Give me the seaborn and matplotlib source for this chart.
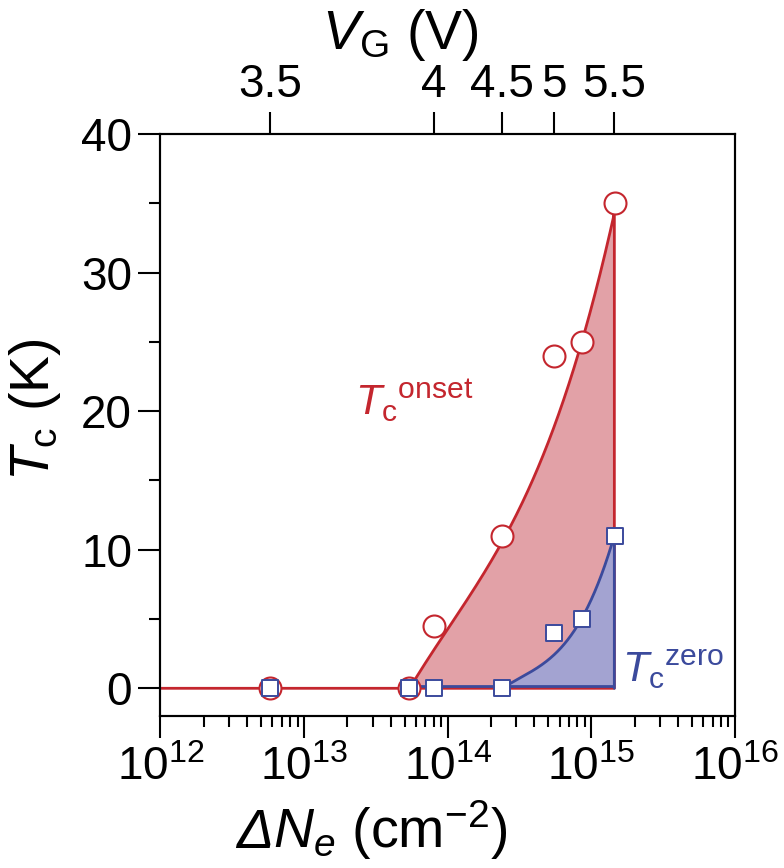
import numpy as np
import pandas as pd
import matplotlib
matplotlib.use("Agg")
import matplotlib.pyplot as plt
import matplotlib.transforms as mtransforms
from matplotlib.ticker import LogLocator, NullFormatter, NullLocator, FixedLocator, MultipleLocator
from matplotlib.offsetbox import TextArea, HPacker, AnnotationBbox
import seaborn as sns

# ---------------- data ----------------
dN = [5.8e12, 5.4e13, 8.0e13, 2.4e14, 5.5e14, 8.6e14, 1.45e15]
tc_onset = [0, 0, 4.5, 11, 24, 25, 35]
tc_zero = [0, 0, 0, 0, 4, 5, 11]
vg_labels = ["3.5", "4", "4.5", "5", "5.5"]
vg_dN = [5.8e12, 8.0e13, 2.4e14, 5.5e14, 1.43e15]

# guide-to-the-eye curves: log10(dN), Tc
onset_guide_logN = [13.73, 14.03, 14.39, 14.85, 15.06, 15.13, 15.16]
onset_guide_T = [0, 4.5, 11, 22.3, 29.5, 32.4, 35]
zero_guide_logN = [14.38, 14.57, 14.74, 14.92, 15.06, 15.16]
zero_guide_T = [0, 1.1, 2.5, 4.7, 8.0, 11]
x_range = [1e12, 1e16]

# ---------------- style ----------------
sns.set_style("ticks")
plt.rcParams["font.family"] = ["Liberation Sans", "DejaVu Sans"]
plt.rcParams["mathtext.fontset"] = "custom"
plt.rcParams["mathtext.rm"] = "Liberation Sans"
plt.rcParams["mathtext.it"] = "Liberation Sans:italic"
plt.rcParams["mathtext.bf"] = "Liberation Sans:bold"
plt.rcParams["mathtext.sf"] = "Liberation Sans"
for k in ["text.color", "axes.labelcolor", "xtick.color", "ytick.color",
          "xtick.labelcolor", "ytick.labelcolor", "axes.edgecolor"]:
    plt.rcParams[k] = "black"

RED = "#C4262E"
BLUE = "#3B4A9C"
RED_FILL = "#E2A1A7"
BLUE_FILL = "#A3A3D1"
TICK_FS = 33
LAB_FS = 40

fig = plt.figure(figsize=(7.84, 8.68), dpi=100)
ax = fig.add_axes([0.2047, 0.1751, 0.7328, 0.6705])


def smooth(lx, ly, n=200):
    c = np.polyfit(lx, ly, 3)
    t = np.linspace(lx[0], lx[-1], n)
    y = np.polyval(c, t)
    y[0] = ly[0]
    y[-1] = ly[-1]
    return 10 ** t, np.maximum(y, 0)

ox, oy = smooth(onset_guide_logN, onset_guide_T)
zx, zy = smooth(zero_guide_logN, zero_guide_T)

# fills
ax.fill_between(ox, 0, oy, color=RED_FILL, lw=0, zorder=1)
ax.fill_between(zx, 0, zy, color=BLUE_FILL, lw=0, zorder=2)

# red outline
red_x = np.concatenate([[x_range[0]], ox, [ox[-1], ox[0]]])
red_y = np.concatenate([[0], oy, [0, 0]])
sns.lineplot(x=red_x, y=red_y, sort=False, estimator=None, color=RED, lw=2.0, ax=ax, zorder=3)

# blue outline (bottom segment drawn slightly above the red base line)
blue_x = np.concatenate([zx, [zx[-1]]])
blue_y = np.concatenate([zy, [0]])
sns.lineplot(x=blue_x, y=blue_y, sort=False, estimator=None, color=BLUE, lw=2.0, ax=ax, zorder=4)
off = mtransforms.offset_copy(ax.transData, fig=fig, x=0, y=2.5, units="dots")
ax.plot([ox[0], zx[-1]], [0, 0], color=BLUE, lw=2.0, transform=off, zorder=4,
        solid_capstyle="butt")

# markers
sns.scatterplot(x=dN, y=tc_onset, marker="o", s=250, facecolor="white",
                edgecolor=RED, linewidth=1.5, ax=ax, zorder=5)
sns.scatterplot(x=dN, y=tc_zero, marker="s", s=130, facecolor="white",
                edgecolor=BLUE, linewidth=1.4, ax=ax, zorder=6)

# axes
ax.set_xscale("log")
ax.set_xlim(*x_range)
ax.set_ylim(-2, 40)
ax.yaxis.set_major_locator(MultipleLocator(10))
ax.yaxis.set_minor_locator(MultipleLocator(5))
ax.xaxis.set_major_locator(LogLocator(base=10, numticks=10))
ax.xaxis.set_minor_locator(LogLocator(base=10, subs=np.arange(2, 10), numticks=50))
ax.xaxis.set_minor_formatter(NullFormatter())
ax.tick_params(which="major", direction="out", length=15.5, width=1.5,
               labelsize=TICK_FS, pad=5)
ax.tick_params(which="minor", direction="out", length=8, width=1.5)
ax.tick_params(axis="x", which="major", pad=6)
for s in ax.spines.values():
    s.set_linewidth(1.5)
    s.set_visible(True)
ax.set_xlabel("")
ax.set_ylabel("")

# top axis: gate voltage
ax2 = ax.twiny()
ax2.set_xscale("log")
ax2.set_xlim(*x_range)
ax2.xaxis.set_major_locator(FixedLocator(vg_dN))
ax2.xaxis.set_minor_locator(NullLocator())
ax2.set_xticklabels(vg_labels)
ax2.tick_params(which="major", direction="out", length=15.5, width=1.5,
                labelsize=TICK_FS, pad=4)
for s in ax2.spines.values():
    s.set_linewidth(1.5)

# axis titles
ta1 = TextArea("Δ", textprops=dict(fontsize=LAB_FS, style="italic", color="black"))
ta2 = TextArea(r"$N_e$ (cm$^{-2}$)", textprops=dict(fontsize=LAB_FS, color="black"))
pack = HPacker(children=[ta1, ta2], align="baseline", pad=0, sep=0)
ab = AnnotationBbox(pack, (372 / 784, 1 - 830 / 868), xycoords="figure fraction",
                    box_alignment=(0.5, 0.5), frameon=False, annotation_clip=False)
fig.add_artist(ab)
fig.text(400 / 784, 1 - 35 / 868, r"$V_{\rm G}$ (V)", fontsize=LAB_FS,
         ha="center", va="center")
fig.text(35 / 784, 1 - 410 / 868, r"$T_{\rm c}$ (K)", fontsize=LAB_FS,
         ha="center", va="center", rotation=90)

# annotations
ax.text(2.26e13, 19.7, r"$T_{\rm c}{}^{\rm onset}$", color=RED, fontsize=31,
        ha="left", va="baseline", zorder=7)
ax.text(1.63e15, 0.42, r"$T_{\rm c}{}^{\rm zero}$", color=BLUE, fontsize=31,
        ha="left", va="baseline", zorder=7)

fig.savefig("out.png", dpi=100)
